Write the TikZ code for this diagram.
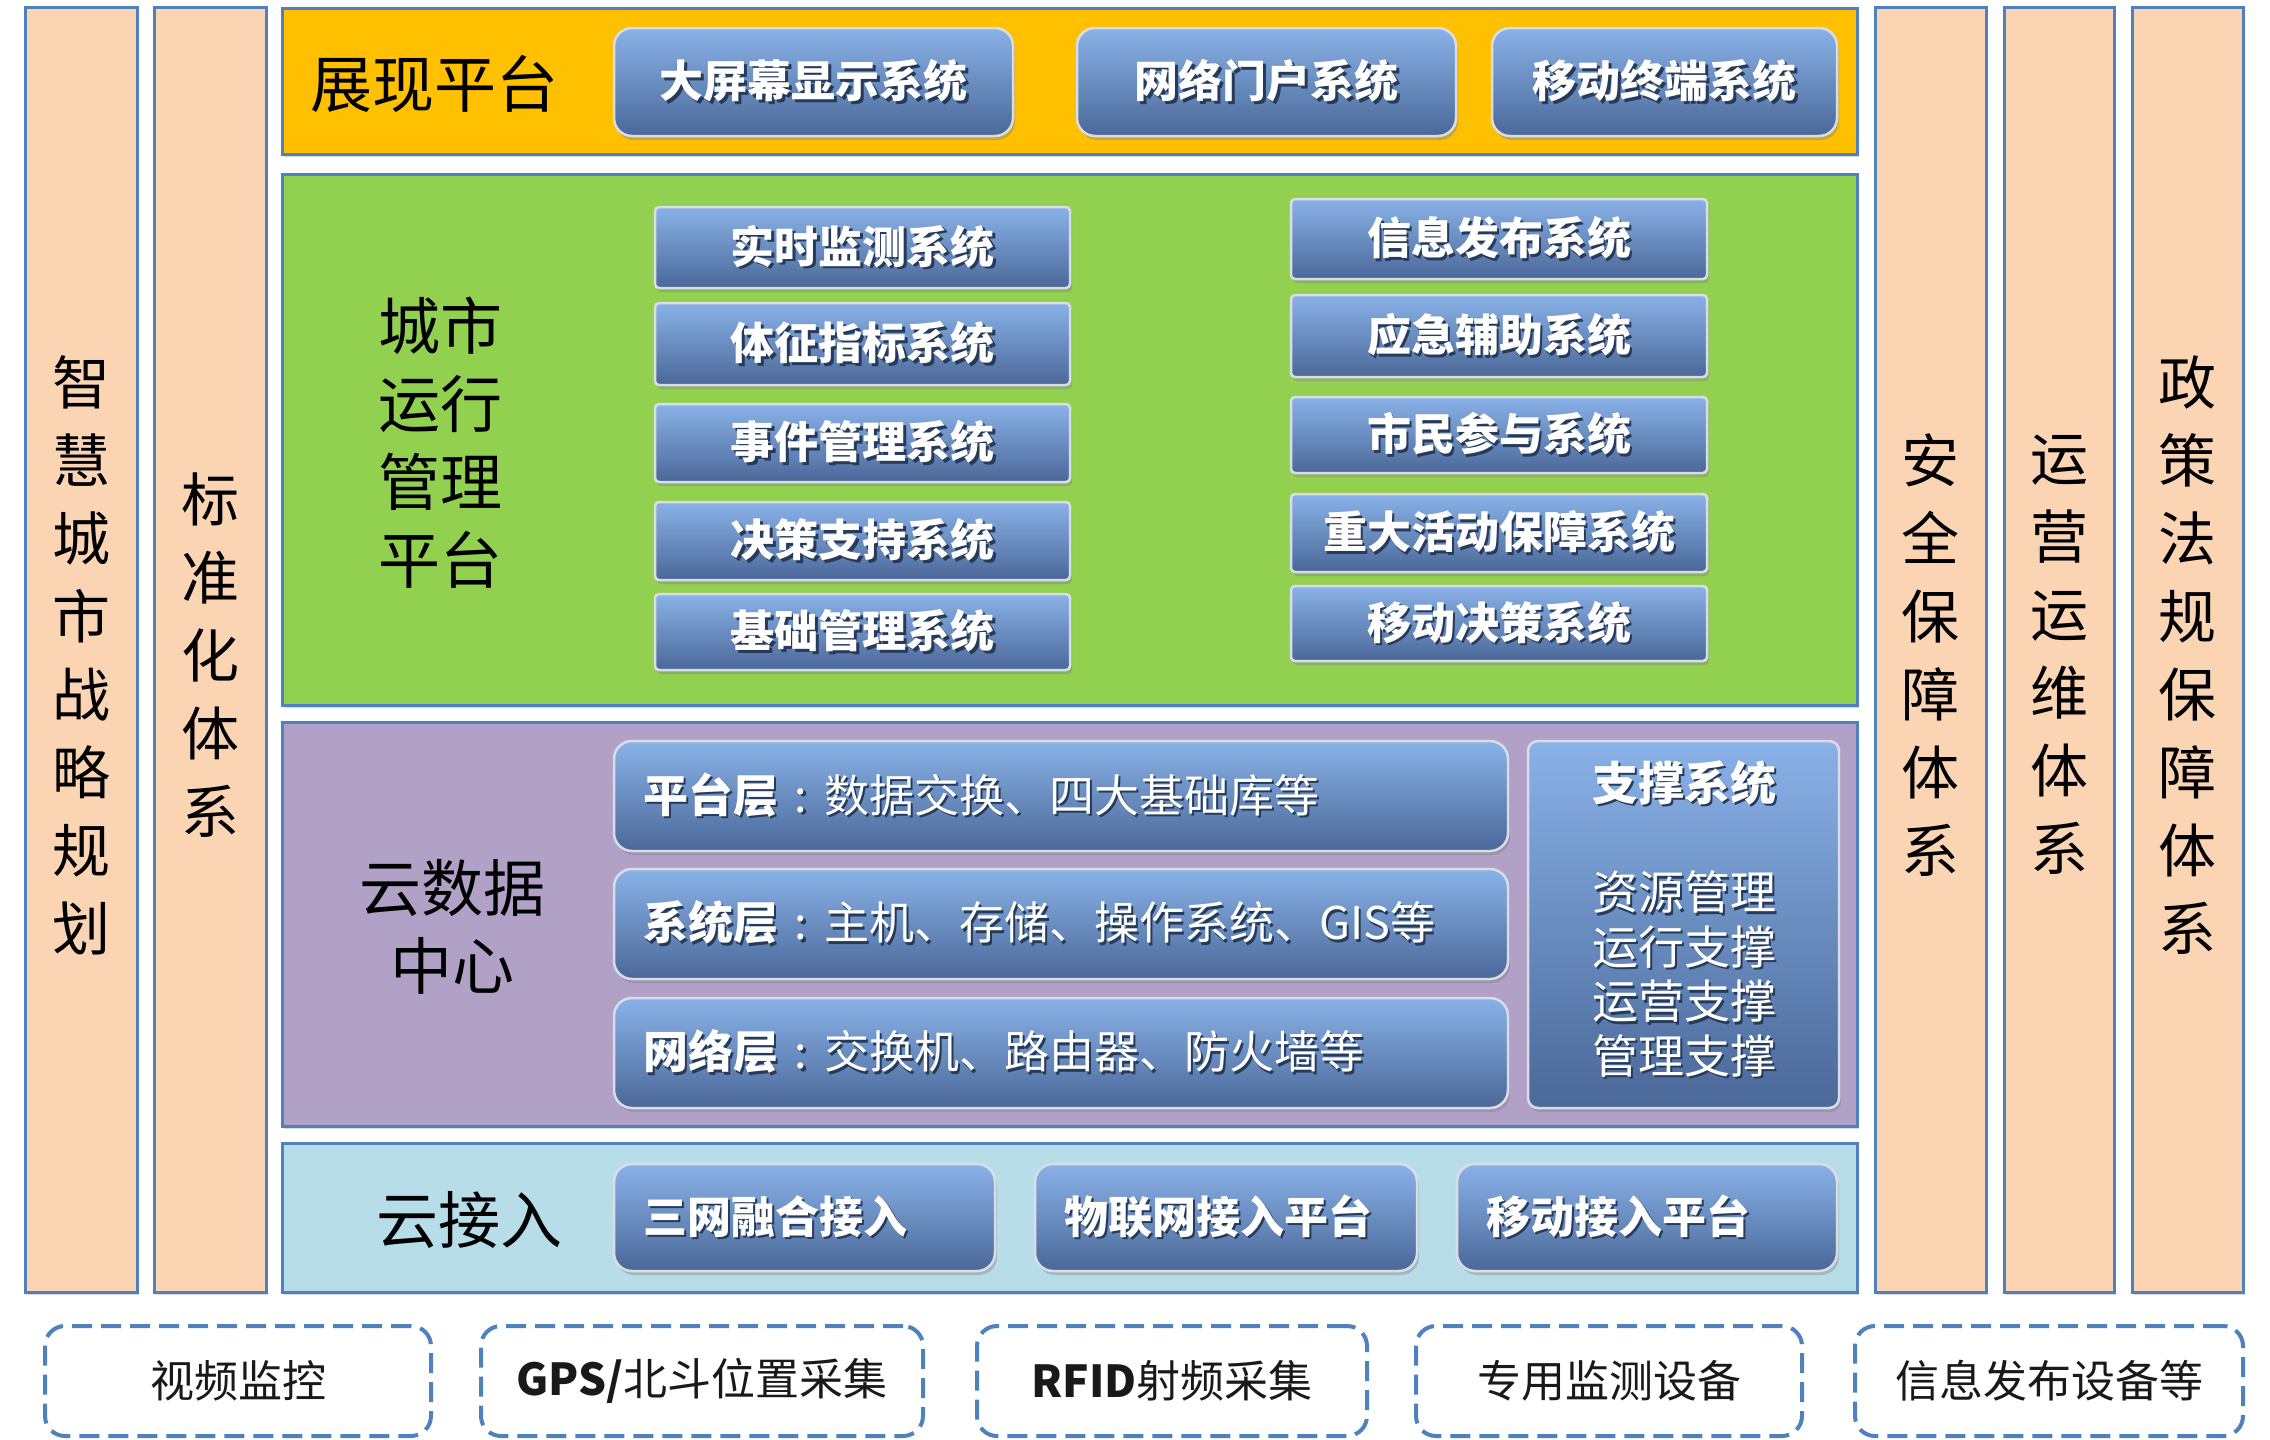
\documentclass[tikz,border=0pt]{standalone}
\usepackage{fontspec}
\setmainfont{Noto Sans CJK SC}
\usetikzlibrary{shadows}
\definecolor{peach}{HTML}{FBD4B4}
\definecolor{edgeblue}{HTML}{4F81BD}
\definecolor{bandorange}{HTML}{FFC000}
\definecolor{bandgreen}{HTML}{92D050}
\definecolor{bandpurple}{HTML}{B2A1C7}
\definecolor{bandcyan}{HTML}{B7DEE8}
\definecolor{btntop}{HTML}{8AB2E8}
\definecolor{btnbot}{HTML}{4A6898}
\definecolor{btnedge}{HTML}{D9DEE6}
\definecolor{txtshadow}{HTML}{263A5A}
\newcommand\stx[1]{\rlap{\kern2.5pt\raisebox{-2.5pt}{\color{txtshadow}#1}}{\color{white}#1}}
\newcommand\mycolon{\makebox[46pt]{:}}
\newcommand\place[7]{%
  \pgfmathsetmacro\pw{#4-#2}\pgfmathsetmacro\ph{#5-#3}%
  \node[#6, minimum width=\pw pt, minimum height=\ph pt] (#1) at ({(#2+#4)/2},{(#3+#5)/2}) {#7};}
\tikzset{
  col/.style={draw=edgeblue, line width=3pt, fill=peach, inner sep=0pt, outer sep=0pt,
    drop shadow={shadow xshift=2pt, shadow yshift=-3pt, opacity=.3}},
  band/.style={draw=edgeblue, line width=3pt, inner sep=0pt, outer sep=0pt,
    drop shadow={shadow xshift=2pt, shadow yshift=-3pt, opacity=.3}},
  btn/.style={draw=btnedge, line width=2.5pt, top color=btntop, bottom color=btnbot,
    rounded corners=18pt, inner sep=0pt, outer sep=0pt,
    drop shadow={shadow xshift=2pt, shadow yshift=-4pt, opacity=.4},
    font=\bfseries\fontsize{44}{50}\selectfont},
  gbtn/.style={btn, rounded corners=4pt},
  sbtn/.style={btn, rounded corners=10pt},
  dbox/.style={draw=edgeblue, line width=4pt, dash pattern=on 20pt off 9pt,
    rounded corners=20pt, fill=white, inner sep=0pt, outer sep=0pt,
    font=\fontsize{44}{50}\selectfont, text=black!90},
  lbl/.style={font=\fontsize{62}{78}\selectfont, align=center, inner sep=0pt, text=black},
  vlbl/.style={font=\fontsize{58}{78}\selectfont, align=center, inner sep=0pt, text=black},
  ltxt/.style={anchor=west, inner sep=0pt, font=\fontsize{45}{50}\selectfont},
}
\begin{document}
\begin{tikzpicture}[x=1pt,y=-1pt]
\useasboundingbox (0,0) rectangle (2270,1440);
% side columns
\place{cL1}{25}{7}{137}{1292}{col}{}
\place{cL2}{154}{7}{266}{1292}{col}{}
\place{cR1}{1875}{7}{1986}{1292}{col}{}
\place{cR2}{2004}{7}{2114}{1292}{col}{}
\place{cR3}{2132}{7}{2243}{1292}{col}{}
\node[vlbl] (tL1) at (81,655) {智\\慧\\城\\市\\战\\略\\规\\划};
\node[vlbl] (tL2) at (210,655) {标\\准\\化\\体\\系};
\node[vlbl] (tR1) at (1930,655) {安\\全\\保\\障\\体\\系};
\node[vlbl] (tR2) at (2059,655) {运\\营\\运\\维\\体\\系};
\node[vlbl] (tR3) at (2187,655) {政\\策\\法\\规\\保\\障\\体\\系};
% bands
\place{bTop}{282}{8}{1857}{154}{band, fill=bandorange}{}
\place{bGreen}{282}{174}{1857}{705}{band, fill=bandgreen}{}
\place{bPurple}{282}{722}{1857}{1126}{band, fill=bandpurple}{}
\place{bCyan}{282}{1143}{1857}{1292}{band, fill=bandcyan}{}
% band labels
\node[lbl] (lTop) at (434,84) {展现平台};
\node[lbl] (lGreen) at (440,443) {城市\\运行\\管理\\平台};
\node[lbl] (lPurple) at (452,927) {云数据\\中心};
\node[lbl] (lCyan) at (469,1220) {云接入};
% top buttons
\place{t1}{614}{28}{1013}{136}{btn}{\stx{大屏幕显示系统}}
\place{t2}{1077}{28}{1456}{136}{btn}{\stx{网络门户系统}}
\place{t3}{1492}{28}{1837}{136}{btn}{\stx{移动终端系统}}
% green buttons left
\place{g1}{655}{207}{1070}{288}{gbtn}{\stx{实时监测系统}}
\place{g2}{655}{303}{1070}{385}{gbtn}{\stx{体征指标系统}}
\place{g3}{655}{404}{1070}{482}{gbtn}{\stx{事件管理系统}}
\place{g4}{655}{502}{1070}{580}{gbtn}{\stx{决策支持系统}}
\place{g5}{655}{594}{1070}{670}{gbtn}{\stx{基础管理系统}}
% green buttons right
\place{h1}{1291}{199}{1707}{279}{gbtn}{\stx{信息发布系统}}
\place{h2}{1291}{295}{1707}{377}{gbtn}{\stx{应急辅助系统}}
\place{h3}{1291}{397}{1707}{473}{gbtn}{\stx{市民参与系统}}
\place{h4}{1291}{494}{1707}{572}{gbtn}{\stx{重大活动保障系统}}
\place{h5}{1291}{586}{1707}{661}{gbtn}{\stx{移动决策系统}}
% purple buttons
\place{p1}{614}{741}{1508}{851}{btn}{}
\place{p2}{614}{869}{1508}{979}{btn}{}
\place{p3}{614}{998}{1508}{1108}{btn}{}
\node[ltxt] (p1t) at ([xshift=29pt]p1.west) {\stx{\textbf{平台层}\mycolon 数据交换、四大基础库等}};
\node[ltxt] (p2t) at ([xshift=29pt]p2.west) {\stx{\textbf{系统层}\mycolon 主机、存储、操作系统、GIS等}};
\node[ltxt] (p3t) at ([xshift=29pt]p3.west) {\stx{\textbf{网络层}\mycolon 交换机、路由器、防火墙等}};
\place{sup}{1528}{741}{1839}{1108}{sbtn}{}
\node[inner sep=0pt, font=\bfseries\fontsize{46}{54}\selectfont] (supt) at (1684,784) {\stx{支撑系统}};
\node[inner sep=0pt, align=center, font=\fontsize{46}{54.5}\selectfont] (supl) at (1684,975)
  {\stx{资源管理}\\\stx{运行支撑}\\\stx{运营支撑}\\\stx{管理支撑}};
% cyan buttons
\place{c1}{614}{1164}{995}{1271}{btn}{}
\place{c2}{1035}{1164}{1417}{1271}{btn}{}
\place{c3}{1457}{1164}{1837}{1271}{btn}{}
\node[ltxt, font=\bfseries\fontsize{44}{50}\selectfont] (c1t) at ([xshift=29pt]c1.west) {\stx{三网融合接入}};
\node[ltxt, font=\bfseries\fontsize{44}{50}\selectfont] (c2t) at ([xshift=29pt]c2.west) {\stx{物联网接入平台}};
\node[ltxt, font=\bfseries\fontsize{44}{50}\selectfont] (c3t) at ([xshift=29pt]c3.west) {\stx{移动接入平台}};
% dashed device boxes
\place{d1}{45}{1326}{431}{1436}{dbox}{视频监控}
\place{d2}{481}{1326}{923}{1436}{dbox}{\textbf{GPS/}北斗位置采集}
\place{d3}{977}{1326}{1367}{1436}{dbox}{\textbf{RFID}射频采集}
\place{d4}{1416}{1326}{1802}{1436}{dbox}{专用监测设备}
\place{d5}{1855}{1326}{2243}{1436}{dbox}{信息发布设备等}
\end{tikzpicture}
\end{document}
